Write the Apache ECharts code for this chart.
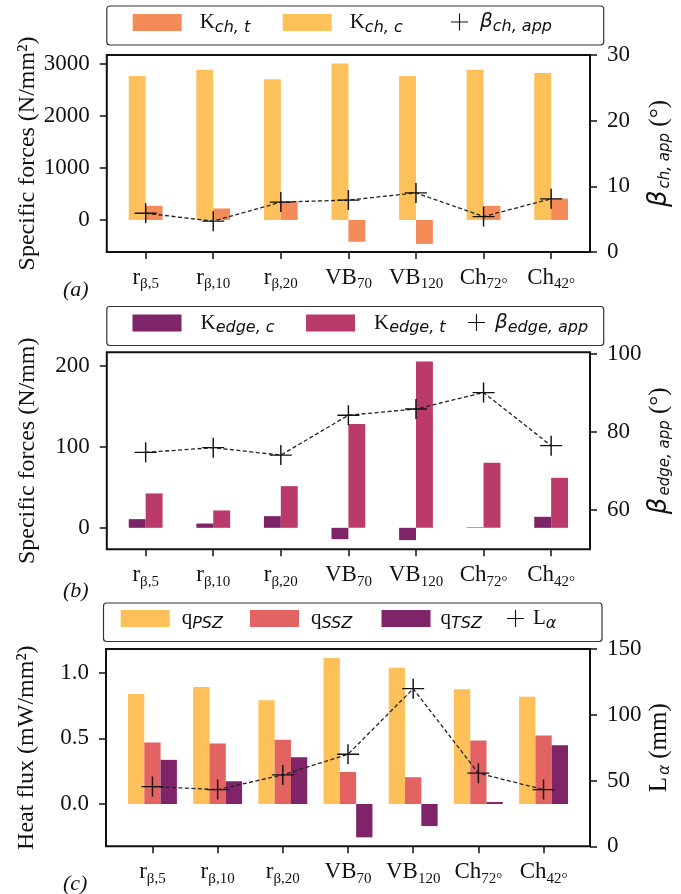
<!DOCTYPE html>
<html lang="en">
<head>
<meta charset="UTF-8">
<title>Specific forces and heat flux per tool</title>
<script src="https://cdn.jsdelivr.net/npm/echarts@6.0.0/dist/echarts.min.js"></script>
<style>
    html, body { margin: 0; padding: 0; background: #fff; }
    #chart { width: 681px; height: 894px; }
</style>
</head>
<body>
<div id="chart"></div>
<script>
    // tools (x categories), label = base + subscript
    var toolBase = ['r', 'r', 'r', 'VB', 'VB', 'Ch', 'Ch'];
    var toolSub = ['β,5', 'β,10', 'β,20', '70', '120', '72°', '42°'];
    var toolTicks = [0, 1, 2, 3, 4, 5, 6];

    // (a) chip specific forces
    var kChT = [270, 220, 360, -420, -460, 270, 410];
    var kChC = [2760, 2880, 2700, 3000, 2760, 2880, 2820];
    var betaCh = [5.9, 4.7, 7.6, 7.9, 9.0, 5.4, 8.1];
    var forceTicksA = [0, 1000, 2000, 3000];
    var betaTicksA = [0, 10, 20, 30];

    // (b) edge specific forces
    var kEdgeC = [10.7, 5.3, 14.4, -14, -15.2, 0.6, 13.6];
    var kEdgeT = [42.4, 21.4, 51.4, 128, 205, 80.2, 61.7];
    var betaEdge = [74.8, 76.0, 74.1, 84.3, 85.9, 90.1, 76.5];
    var forceTicksB = [0, 100, 200];
    var betaTicksB = [60, 80, 100];

    // (c) heat flux
    var qPSZ = [0.837, 0.89, 0.789, 1.112, 1.038, 0.873, 0.817];
    var qSSZ = [0.468, 0.46, 0.489, 0.244, 0.204, 0.483, 0.522];
    var qTSZ = [0.336, 0.173, 0.356, -0.254, -0.168, 0.015, 0.448];
    var lAlpha = [45.4, 43.1, 54.3, 70, 119.8, 55.6, 43.1];
    var fluxTicks = [0, 0.5, 1.0];
    var lengthTicks = [0, 50, 100, 150];

    var serif = '"Liberation Serif", "DejaVu Serif", serif';
    var sans = '"DejaVu Sans", sans-serif';
    var ink = '#111';
    var PLUS = 'path://M9.35,0h1.3v9.35h9.35v1.3h-9.35v9.35h-1.3v-9.35h-9.35v-1.3h9.35z';

    var richText = {
        m: {fontFamily: serif, fontSize: 21, color: ink, lineHeight: 26},
        g: {fontFamily: sans, fontStyle: 'italic', fontSize: 20, color: ink, lineHeight: 26},
        s: {fontFamily: sans, fontStyle: 'italic', fontSize: 16, color: ink, lineHeight: 19, verticalAlign: 'bottom'}
    };
    var catRich = {
        m: {fontFamily: serif, fontSize: 23, color: ink, lineHeight: 28},
        s: {fontFamily: serif, fontSize: 15, color: ink, lineHeight: 15, verticalAlign: 'bottom'}
    };
    var nameRich = {
        g: {fontFamily: sans, fontStyle: 'italic', fontSize: 26, color: ink, lineHeight: 28},
        s: {fontFamily: sans, fontStyle: 'italic', fontSize: 15, color: ink, lineHeight: 16,
            verticalAlign: 'bottom', padding: [0, 0, 0, 2]},
        m: {fontFamily: serif, fontSize: 25, color: ink, lineHeight: 28}
    };
    var legendText = {
        'K_ch,t': '{m|K}{s|ch, t}',
        'K_ch,c': '{m|K}{s|ch, c}',
        'beta_ch': '{g|β}{s|ch, app}',
        'K_edge,c': '{m|K}{s|edge, c}',
        'K_edge,t': '{m|K}{s|edge, t}',
        'beta_edge': '{g|β}{s|edge, app}',
        'q_PSZ': '{m|q}{s|PSZ}',
        'q_SSZ': '{m|q}{s|SSZ}',
        'q_TSZ': '{m|q}{s|TSZ}',
        'L_alpha': '{m|L}{s|α}'
    };

    function pairs(vals) {
        return vals.map(function (v, i) { return [i, v]; });
    }

    function toolLabel(v) {
        var i = Math.round(v);
        return '{m|' + toolBase[i] + '}{s|' + toolSub[i] + '}';
    }

    function plain(v) {
        return String(v);
    }

    var tickStyle = {length: 7, lineStyle: {color: ink, width: 1.5}};

    function xAxis(grid, min, max) {
        return {
            type: 'value', gridIndex: grid, min: min, max: max,
            axisLine: {show: false, onZero: false},
            axisTick: Object.assign({show: true, customValues: toolTicks}, tickStyle),
            axisLabel: {customValues: toolTicks, formatter: toolLabel, rich: catRich, margin: 12},
            splitLine: {show: false}
        };
    }

    function yAxis(grid, pos, min, max, ticks, fmt, name, gap) {
        return {
            type: 'value', gridIndex: grid, position: pos, min: min, max: max,
            axisLine: {show: false, onZero: false},
            axisTick: Object.assign({show: true, customValues: ticks}, tickStyle),
            axisLabel: {
                customValues: ticks, formatter: fmt || plain, margin: 17,
                fontFamily: serif, fontSize: 23, color: ink
            },
            splitLine: {show: false},
            name: name, nameLocation: 'middle', nameGap: gap, nameRotate: 90,
            nameMoveOverlap: false,
            nameTextStyle: {fontFamily: serif, fontSize: 24, color: ink, rich: nameRich}
        };
    }

    function legend(name, icon, left, top, w, pad) {
        return {
            data: [{name: name, icon: icon}],
            left: left, top: top, padding: 0,
            itemWidth: w, itemHeight: 17,
            selectedMode: false,
            formatter: function (n) { return legendText[n]; },
            textStyle: {padding: [0, 0, 0, pad], rich: richText}
        };
    }

    function bars(name, vals, x, y, color) {
        return {
            name: name, type: 'bar', xAxisIndex: x, yAxisIndex: y,
            data: pairs(vals), barWidth: '25%', barGap: '0%',
            itemStyle: {color: color}, z: 2
        };
    }

    function markers(name, vals, x, y) {
        return {
            name: name, type: 'line', xAxisIndex: x, yAxisIndex: y,
            data: pairs(vals), symbol: PLUS, symbolSize: [22, 20],
            itemStyle: {color: ink},
            lineStyle: {color: '#222', width: 1.3, type: [4, 2.5]},
            z: 4
        };
    }

    var gridBox = {show: true, borderColor: ink, borderWidth: 2, backgroundColor: 'transparent'};
    var frame = {fill: 'none', stroke: '#333', lineWidth: 1.2};
    var panelTag = {fontFamily: serif, fontStyle: 'italic', fontWeight: 'normal', fontSize: 22, color: ink};

    var chart = echarts.init(document.getElementById('chart'));
    var option = {
        animation: false,
        backgroundColor: '#fff',
        title: [
            {text: '(a)', left: 63, top: 279, padding: 0, textStyle: panelTag},
            {text: '(b)', left: 63, top: 580, padding: 0, textStyle: panelTag},
            {text: '(c)', left: 63, top: 873, padding: 0, textStyle: panelTag}
        ],
        graphic: [
            {type: 'rect', silent: true, shape: {x: 106.8, y: 6, width: 496.9, height: 39, r: 3}, style: frame},
            {type: 'rect', silent: true, shape: {x: 106.8, y: 306.5, width: 496.9, height: 39, r: 3}, style: frame},
            {type: 'rect', silent: true, shape: {x: 103.5, y: 603, width: 498.5, height: 38.5, r: 3}, style: frame}
        ],
        legend: [
            legend('K_ch,t', 'rect', 132.7, 12, 49, 13),
            legend('K_ch,c', 'rect', 282.7, 12, 49, 13),
            legend('beta_ch', PLUS, 451, 12, 17, 7),
            legend('K_edge,c', 'rect', 132.5, 312.5, 49, 14),
            legend('K_edge,t', 'rect', 306, 312.5, 49, 14),
            legend('beta_edge', PLUS, 468, 312.5, 17, 5),
            legend('q_PSZ', 'rect', 120.7, 608, 49, 7),
            legend('q_SSZ', 'rect', 250, 608, 49, 7),
            legend('q_TSZ', 'rect', 381.5, 608, 49, 5),
            legend('L_alpha', PLUS, 507, 608, 17, 4)
        ],
        grid: [
            Object.assign({left: 106.8, width: 496.9, top: 55, height: 197}, gridBox),
            Object.assign({left: 106.8, width: 496.9, top: 352.3, height: 197}, gridBox),
            Object.assign({left: 106, width: 496.8, top: 649, height: 197.3}, gridBox)
        ],
        xAxis: [
            xAxis(0, -0.575, 6.575),
            xAxis(1, -0.575, 6.575),
            xAxis(2, -0.7125, 6.7125)
        ],
        yAxis: [
            yAxis(0, 'left', -615, 3165, forceTicksA, null, 'Specific forces (N/mm²)', 67),
            yAxis(0, 'right', 0, 30, betaTicksA, null, '{g|β}{s|ch, app}{m| (°)}', 55),
            yAxis(1, 'left', -26.5, 216.5, forceTicksB, null, 'Specific forces (N/mm)', 67),
            yAxis(1, 'right', 50, 100.4, betaTicksB, null, '{g|β}{s|edge, app}{m| (°)}', 55),
            yAxis(2, 'left', -0.322, 1.18, fluxTicks, function (v) { return v.toFixed(1); },
                'Heat flux (mW/mm²)', 67),
            yAxis(2, 'right', 0, 150, lengthTicks, null, '{m|L}{s|α}{m| (mm)}', 55)
        ],
        series: [
            bars('K_ch,c', kChC, 0, 0, '#fdc15b'),
            bars('K_ch,t', kChT, 0, 0, '#f68b5a'),
            markers('beta_ch', betaCh, 0, 1),
            bars('K_edge,c', kEdgeC, 1, 2, '#7e2468'),
            bars('K_edge,t', kEdgeT, 1, 2, '#ba3a6b'),
            markers('beta_edge', betaEdge, 1, 3),
            bars('q_PSZ', qPSZ, 2, 4, '#fec15a'),
            bars('q_SSZ', qSSZ, 2, 4, '#e36262'),
            bars('q_TSZ', qTSZ, 2, 4, '#7f2468'),
            markers('L_alpha', lAlpha, 2, 5)
        ]
    };
    chart.setOption(option);
</script>
</body>
</html>
